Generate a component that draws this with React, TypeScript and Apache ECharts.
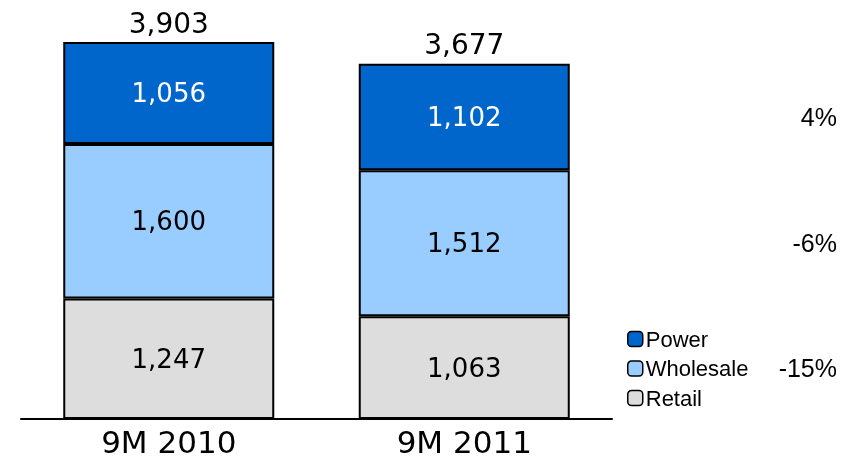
import React, { useEffect, useRef } from "react";
import * as echarts from "echarts";

const categories = ["9M 2010", "9M 2011"];
const retail = [1247, 1063];
const wholesale = [1600, 1512];
const power = [1056, 1102];
const changeLabels = ["4%", "-6%", "-15%"]; // Power, Wholesale, Retail
const legendOrder = ["Power", "Wholesale", "Retail"];

const fmt = (v: number) => v.toLocaleString("en-US");

export default function App() {
  const ref = useRef<HTMLDivElement>(null);
  useEffect(() => {
    if (!ref.current) return;
    const chart = echarts.init(ref.current, undefined, { renderer: "svg" });
    const totals = categories.map((_, i) => retail[i] + wholesale[i] + power[i]);
    const font = "'DejaVu Sans', Verdana, sans-serif";
    const seg = (name: string, data: number[], color: string, labelColor: string) => ({
      name,
      type: "bar",
      stack: "s",
      data,
      barWidth: 211,
      itemStyle: { color, borderColor: "#000", borderWidth: 2 },
      label: {
        show: true,
        position: "inside",
        color: labelColor,
        fontFamily: font,
        fontSize: 26,
        formatter: (p: any) => fmt(p.value),
      },
    });
    chart.setOption({
      animation: false,
      grid: { left: 21, right: 249, top: 42, bottom: 41, containLabel: false },
      xAxis: {
        type: "category",
        data: categories,
        axisLine: { lineStyle: { color: "#000", width: 2 } },
        axisTick: { show: false },
        axisLabel: { color: "#000", fontFamily: font, fontSize: 31, margin: 7 },
      },
      yAxis: {
        type: "value",
        min: 0,
        max: 3903,
        show: false,
        splitLine: { show: false },
      },
      legend: {
        data: legendOrder,
        orient: "vertical",
        left: 627,
        top: 328,
        padding: 0,
        itemWidth: 15,
        itemHeight: 15,
        itemGap: 7.5,
        icon: "roundRect",
        textStyle: {
          fontFamily: "'Liberation Sans', Arial, sans-serif",
          fontSize: 22,
          lineHeight: 22,
          color: "#000",
          padding: [0, 0, 0, -2],
        },
        itemStyle: { borderColor: "#000", borderWidth: 1.5 },
      },
      series: [
        seg("Retail", retail, "#DDDDDD", "#000"),
        seg("Wholesale", wholesale, "#99CCFF", "#000"),
        seg("Power", power, "#0066CC", "#fff"),
        {
          name: "Total",
          type: "bar",
          data: totals,
          barWidth: 211,
          barGap: "-100%",
          silent: true,
          z: 1,
          itemStyle: { color: "rgba(0,0,0,0)" },
          label: {
            show: true,
            position: "top",
            distance: 5,
            color: "#000",
            fontFamily: font,
            fontSize: 28,
            formatter: (p: any) => fmt(p.value),
          },
        },
      ],
    });
    const mids = [
      retail[1] + wholesale[1] + power[1] / 2,
      retail[1] + wholesale[1] / 2,
      retail[1] / 2,
    ];
    const graphic = changeLabels.map((t, i) => {
      const pt = chart.convertToPixel({ gridIndex: 0 } as any, [1, mids[i]]) as number[];
      return {
        type: "text",
        right: 24,
        y: pt[1],
        style: {
          text: t,
          fill: "#000",
          font: "25px 'Liberation Sans', Arial, sans-serif",
          textAlign: "right",
          textVerticalAlign: "middle",
        },
      };
    });
    chart.setOption({ graphic });
    return () => chart.dispose();
  }, []);
  return (
    <div
      ref={ref}
      style={{ position: "fixed", left: 0, top: 0, width: 861, height: 460 }}
    />
  );
}
